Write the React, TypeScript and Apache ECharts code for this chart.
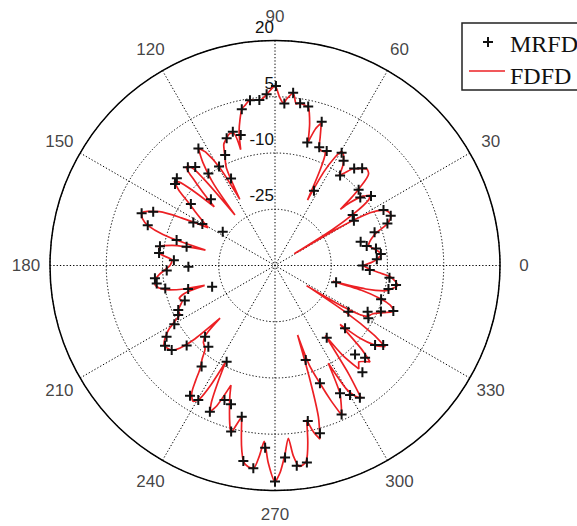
import React, { useEffect, useRef } from 'react';
import * as echarts from 'echarts';

// radial data are in dB; the plot's centre sits at -40 dB
const OFFSET = 40;
const RADIAL_TICKS = [-40, -25, -10, 5, 20];
const ANGLE_TICKS = [0, 30, 60, 90, 120, 150, 180, 210, 240, 270, 300, 330];

// FDFD (continuous curve): angle (deg) and level (dB)
const FDFD_ANGLE = [
  0, 2, 4, 6, 8, 10, 12, 14, 16, 18, 20, 22, 23.5, 25.5, 27, 29, 30.5, 31.3, 32, 33.5,
  35, 36.5, 38.5, 40, 40.7, 41.5, 42.5, 44.5, 46.5, 48.5, 51, 53, 54.5, 56, 58, 59.6,
  61, 62.5, 63.6, 64.7, 66, 68, 69.5, 70.5, 72, 73.5, 75, 76.3, 78, 80, 81.5, 82.5,
  84, 86, 87, 88.5, 90, 91.5, 93, 95, 97, 98.6, 100.5, 102, 103.5, 105, 106.5, 107.5,
  109, 111, 113, 114.5, 116.5, 118, 119.5, 121.5, 123.2, 125, 127, 128.4, 129.5, 131,
  132, 133.5, 135, 136, 137.5, 139, 140.2, 142, 144, 146.5, 150.5, 153, 155, 157,
  158.6, 160.5, 162.5, 164.5, 166, 167.5, 169, 170.5, 172.3, 174.5, 177, 180, 182.5,
  184.5, 187, 189, 191, 193, 194.5, 195.8, 197, 199, 201, 203, 205, 207, 209, 211,
  213, 215.5, 217.5, 219.3, 221, 222.5, 223.8, 225, 227, 230, 232, 234, 235.5, 237,
  239, 240.5, 241.8, 242.9, 244, 245, 246, 247.5, 249.8, 251, 253, 255.3, 256.7,
  257.6, 259, 260.8, 262.5, 263.9, 265.3, 266.5, 268, 270, 271.5, 273, 274.4, 275.5,
  277, 279, 280.5, 281.6, 283, 284.5, 286, 287, 288, 289, 291, 292.5, 294, 295.5,
  297, 298.6, 300, 301.5, 303, 304.2, 305.7, 307, 309, 311, 313, 314.6, 316, 317.9,
  319.5, 321.5, 323.6, 325, 326.5, 327.5, 329, 331, 333.5, 336.5, 339, 341, 342.5,
  344, 344.6, 345.5, 347, 349, 351, 353, 354.5, 356, 358, 360,
];
const FDFD_DB = [
  -16.5, -14, -12.5, -11.5, -12.3, -13.5, -14.5, -14, -13, -11.5, -8.5, -6.8, -6.3, -6.6, -7.5, -11, -20, -34, -22, -14,
  -9.5, -8.5, -10.5, -14, -17, -13, -9.5, -5, -4.5, -5.5, -6.8, -9, -10.5, -7.5, -5.5, -4.8,
  -7, -12, -20.5, -12, -7, -7, -6.5, -4, 0, -2, -6, -1, 3, 3.6, 3.8, 3.4,
  6.3, 4.5, 3.3, 5, 7.9, 6.8, 5.5, 4.3, 4.4, 4.6, 3.5, 2.6, 0, -3, -7.8, -3,
  -2.8, -3.8, -5, -7.7, -11, -20, -10, -4.5, -2.7, -6.5, -13, -22.8, -10, -5,
  -4.7, -9, -14, -17.5, -11, -6, -5, -7.5, -11.5, -15, -19.5, -12, -6, -3,
  -1.8, -2.5, -4.4, -9, -15, -21, -12, -9, -8.8, -9.5, -12.5, -12, -10.5,
  -9, -7.8, -7.6, -8.5, -11, -15, -20.5, -15, -13, -13.5, -12.5, -11.5, -11.5, -9.5, -7,
  -5.2, -3.6, -3.8, -4.4, -6.5, -11, -19.7, -14, -12, -11, -8.5, -6, -2.5, 0.8,
  2.3, 1, -4, -11, -5, 0, 2.7, 0.5, -6, -3, 1.5, 6, 3,
  1.3, 7, 12.8, 14.2, 14.4, 11, 7, 12.5, 17.6, 15, 10.5, 6.2, 11,
  14, 13, 8, 2, 5.5, 7.8, 2, -8, -20.5, -12, -6, -1, 3.7, 1,
  -2, -10.3, -2, 0.8, 2.2, -5, -17, -10, -4.5, -6, -5, -3.9, -8, -16.6,
  -10, -5.8, -3.5, -8, -17, -30, -18, -12, -11, -8.5, -6, -7.5, -10.5,
  -16, -24, -15, -10, -8, -6.9, -8, -9.2, -12, -15, -16.5,
];

// MRFD (markers): angle (deg) and level (dB)
const MRFD_ANGLE = [
  0, 3.5, 6.2, 9.5, 12, 15.5, 18.5, 20.5, 23.3, 27.1, 29.6, 33, 35.9, 38.6, 42.2, 48.1,
  50.8, 54.1, 56.8, 59.4, 62.5, 65.7, 69.5, 72, 75.3, 78.2, 81.2, 84, 86.7, 89.7, 92.8,
  95.4, 98.6, 102, 104.7, 107.5, 110.8, 114.3, 116.8, 119.5, 123.2, 125.9, 129, 131.6,
  134, 138.4, 140.8, 143.8, 147.1, 150.3, 152.3, 156.2, 158.6, 162.4, 165.5, 168, 170.5,
  173.8, 177, 180.8, 182.7, 186.1, 188.6, 191.9, 195.2, 198.7, 201.2, 204.7, 207.1,
  210.3, 213.3, 216.1, 219.3, 222.2, 225.5, 230.6, 234, 236.9, 240.3, 243.3, 246, 249.4,
  252.4, 255.2, 257.6, 260.8, 263.9, 266.9, 270, 273, 276.2, 279.2, 281.9, 285, 288,
  290.9, 294.1, 297, 300.1, 302.7, 305.6, 309.3, 312, 314.3, 318.1, 321.5, 323.7, 327.8,
  330.5, 333.5, 336.5, 339, 342.3, 344.6, 348.3, 350.8, 353.9, 357.3,
];
const MRFD_DB = [
  -16.6, -12.8, -11.6, -12.7, -15, -16.3, -12, -8, -6.4, -7.5, -15.8, -15.3, -8.4, -10.9, -9.9, -5.2,
  -6.6, -10.4, -6.6, -5.1, -17.5, -6.5, -6.3, 0.3, -6.1, 3.3, 3.8, 6.3, 3.3, 7.9, 5.7,
  4.3, 4.6, 2.6, -4, -2.6, -3.7, -7.7, -14, -9.7, -2.7, -9.7, -6.2, -5,
  -15.4, -5, -5.6, -12.2, -23.4, -17.7, -15.4, -4.5, -1.8, -4.4, -12.9, -15.9, -8.9,
  -8.9, -13, -16.9, -11.1, -7.8, -8.1, -10.1, -16, -22.3, -14.2, -11.6, -11,
  -8.9, -5.4, -3.7, -4.4, -8.2, -13.4, -12, -6.7, 1.5, 1.3, -11.3, 2.7, -1.7,
  -1.2, 5.8, 1.3, 12.8, 14.4, 8.7, 17.6, 11.3, 13.7, 13.2, 2.4, 6.3, -13.5,
  -6.4, 3.5, -1.8, -0.1, 1.9, -16.3, -3.2, -8.1, -5.6, -14.9, -5.9, -4.2, -16.9,
  -11.4, -12.4, -9.2, -6.2, -10.3, -23.1, -9.1, -7.3, -9.3, -14.7,
];

const SERIES_NAMES = ['MRFD', 'FDFD'];

const PLUS = 'path://M4,0h2v4h4v2h-4v4h-2v-4h-4v-2h4z';
const CX = 275;
const CY = 265.5;
const R = 225;
const LABEL_GAP = 24; // px between outer circle and centre of angle labels
const LABEL_FONT = '"Liberation Sans", Arial, Helvetica, sans-serif';
const LEGEND_FONT = '"Liberation Serif", "Times New Roman", serif';

export default function App() {
  const ref = useRef<HTMLDivElement>(null);

  useEffect(() => {
    if (!ref.current) return;
    const chart = echarts.init(ref.current, undefined, { renderer: 'svg' });

    const rMin = RADIAL_TICKS[0] + OFFSET;
    const rMax = RADIAL_TICKS[RADIAL_TICKS.length - 1] + OFFSET;
    const rStep = RADIAL_TICKS[1] - RADIAL_TICKS[0];
    const rLabel = rMax + (LABEL_GAP / R) * (rMax - rMin);

    const fdfd = FDFD_ANGLE.map((a, i) => [FDFD_DB[i] + OFFSET, a]);
    const mrfd = MRFD_ANGLE.map((a, i) => [MRFD_DB[i] + OFFSET, a]);
    const angleLabels = ANGLE_TICKS.map((a) => [rLabel, a]);

    const dotted = { color: '#000', width: 1, type: [1.3, 2] as any };

    chart.setOption({
      animation: false,
      backgroundColor: '#fff',
      polar: [
        { center: [CX, CY], radius: R },
        { center: [CX, CY], radius: R },
      ],
      angleAxis: [
        {
          polarIndex: 0,
          type: 'value',
          min: 0,
          max: 360,
          interval: 30,
          startAngle: 0,
          clockwise: false,
          axisLine: { show: true, lineStyle: { color: '#000', width: 1.5 } },
          axisTick: { show: false },
          axisLabel: { show: false },
          splitLine: { show: true, lineStyle: dotted },
        },
        {
          polarIndex: 1,
          type: 'value',
          min: 0,
          max: 360,
          startAngle: 90,
          axisLine: { show: false },
          axisTick: { show: false },
          axisLabel: { show: false },
          splitLine: { show: false },
        },
      ],
      radiusAxis: [
        {
          polarIndex: 0,
          type: 'value',
          min: rMin,
          max: rMax,
          interval: rStep,
          axisLine: { show: false },
          axisTick: { show: false },
          axisLabel: { show: false },
          splitLine: { show: true, lineStyle: dotted },
        },
        {
          polarIndex: 1,
          type: 'value',
          min: rMin,
          max: rMax,
          interval: rStep,
          axisLine: { show: false },
          axisTick: { show: false },
          splitLine: { show: false },
          axisLabel: {
            show: true,
            margin: 1,
            fontSize: 17,
            fontFamily: LABEL_FONT,
            color: '#111',
            align: 'right',
            verticalAlign: 'bottom',
            padding: [0, 0, 5, 0],
            formatter: (v: number) => (v === rMin ? '' : String(v - OFFSET)),
          },
        },
      ],
      series: [
        {
          name: SERIES_NAMES[1],
          type: 'line',
          coordinateSystem: 'polar',
          polarIndex: 0,
          data: fdfd,
          showSymbol: false,
          smooth: 0.25,
          lineStyle: { color: '#ec2024', width: 1.7 },
          z: 2,
        },
        {
          name: SERIES_NAMES[0],
          type: 'scatter',
          coordinateSystem: 'polar',
          polarIndex: 0,
          data: mrfd,
          symbol: PLUS,
          symbolSize: 10,
          itemStyle: { color: '#111', opacity: 1 },
          z: 3,
        },
        {
          name: 'angle-labels',
          type: 'scatter',
          coordinateSystem: 'polar',
          polarIndex: 0,
          clip: false,
          data: angleLabels,
          symbol: 'circle',
          symbolSize: 2,
          itemStyle: { color: 'rgba(255,255,255,0)' },
          silent: true,
          label: {
            show: true,
            position: 'inside',
            fontSize: 17,
            fontFamily: LABEL_FONT,
            color: '#111',
            formatter: (p: any) => String(p.value[1]),
          },
          labelLayout: { hideOverlap: false },
          z: 4,
        },
      ],
      graphic: [
        {
          type: 'rect',
          shape: { x: 462, y: 23, width: 140, height: 67 },
          style: { fill: '#fff', stroke: '#222', lineWidth: 1.5 },
          z: 10,
        },
        {
          type: 'line',
          shape: { x1: 483, y1: 42, x2: 493, y2: 42 },
          style: { stroke: '#111', lineWidth: 2 },
          z: 11,
        },
        {
          type: 'line',
          shape: { x1: 488, y1: 37, x2: 488, y2: 47 },
          style: { stroke: '#111', lineWidth: 2 },
          z: 11,
        },
        {
          type: 'line',
          shape: { x1: 469, y1: 71, x2: 505, y2: 71 },
          style: { stroke: '#ec2024', lineWidth: 1.7 },
          z: 11,
        },
        {
          type: 'text',
          x: 510,
          y: 44,
          style: {
            text: SERIES_NAMES[0],
            font: `24px ${LEGEND_FONT}`,
            fill: '#111',
            verticalAlign: 'middle',
          },
          z: 11,
        },
        {
          type: 'text',
          x: 510,
          y: 76,
          style: {
            text: SERIES_NAMES[1],
            font: `24px ${LEGEND_FONT}`,
            fill: '#111',
            verticalAlign: 'middle',
          },
          z: 11,
        },
      ],
    });

    return () => chart.dispose();
  }, []);

  return (
    <div
      ref={ref}
      style={{ position: 'fixed', left: 0, top: 0, width: 577, height: 526, background: '#fff' }}
    />
  );
}
